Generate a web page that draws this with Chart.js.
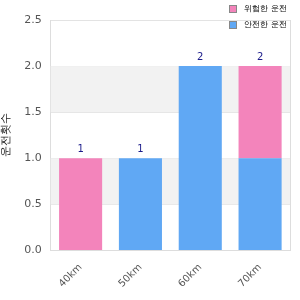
<!DOCTYPE html>
<html>
<head>
<meta charset="utf-8">
<script src="https://cdn.jsdelivr.net/npm/chart.js@4"></script>
<style>
  html, body { margin: 0; padding: 0; background: #fff; }
  #wrap { width: 300px; height: 300px; }
</style>
</head>
<body>
<div id="wrap"><canvas id="myChart" width="300" height="300"></canvas></div>
<script>
var categories = ['40km', '50km', '60km', '70km'];
var safeValues = [0, 1, 2, 1];
var riskyValues = [1, 0, 0, 1];
var yTicks = [0, 0.5, 1, 1.5, 2, 2.5];
var seriesNames = ['위험한 운전', '안전한 운전'];
var yTitle = '운전횟수';

var pink = 'rgb(243, 132, 187)';
var blue = 'rgb(96, 168, 244)';

// grey bands behind the bars + frame
var bands = {
    id: 'bands',
    beforeDatasetsDraw: function (chart) {
        var c = chart.ctx, a = chart.chartArea, y = chart.scales.y;
        c.save();
        c.fillStyle = '#f2f2f2';
        [[0.5, 1], [1.5, 2]].forEach(function (b) {
            var t = y.getPixelForValue(b[1]), btm = y.getPixelForValue(b[0]);
            c.fillRect(a.left, t, a.right - a.left, btm - t);
        });
        c.strokeStyle = '#dddddd';
        c.lineWidth = 1;
        c.beginPath();
        c.moveTo(a.right + 0.5, a.top);
        c.lineTo(a.right + 0.5, a.bottom);
        c.stroke();
        c.restore();
    },
    afterDraw: function (chart) {
        var c = chart.ctx, x = chart.scales.x, y = chart.scales.y;
        c.save();
        // totals above stacks
        c.fillStyle = '#1c1c8a';
        c.font = '10px "DejaVu Sans"';
        c.textAlign = 'center';
        c.textBaseline = 'bottom';
        categories.forEach(function (cat, i) {
            var total = safeValues[i] + riskyValues[i];
            c.fillText(String(total), x.getPixelForValue(i), y.getPixelForValue(total) - 4);
        });
        // legend
        var colors = [pink, blue];
        c.textAlign = 'left';
        c.textBaseline = 'middle';
        c.font = '8px "DejaVu Sans"';
        seriesNames.forEach(function (name, i) {
            var top = 5 + i * 16;
            c.fillStyle = colors[i];
            c.fillRect(229, top, 8, 8);
            c.strokeStyle = '#888';
            c.lineWidth = 1;
            c.strokeRect(229.5, top + 0.5, 7, 7);
            c.fillStyle = '#000';
            c.fillText(name, 244, top + 4);
        });
        c.restore();
    }
};

var ctx = document.getElementById('myChart').getContext('2d');

var myChart = new Chart(ctx, {
    type: 'bar',
    data: {
        labels: categories,
        datasets: [{
            label: seriesNames[1],
            data: safeValues,
            backgroundColor: blue,
            borderWidth: 0
        },
        {
            label: seriesNames[0],
            data: riskyValues,
            backgroundColor: pink,
            borderWidth: 0
        }]
    },
    options: {
        responsive: false,
        animation: false,
        layout: { padding: { top: 20, right: 10, left: 0, bottom: 7 } },
        plugins: {
            legend: { display: false },
            tooltip: { enabled: false }
        },
        scales: {
            x: {
                stacked: true,
                grid: { display: false },
                border: { color: '#dddddd' },
                ticks: {
                    color: '#555',
                    font: { family: 'DejaVu Sans', size: 10 },
                    maxRotation: 45,
                    minRotation: 45
                }
            },
            y: {
                stacked: true,
                min: 0,
                max: 2.5,
                afterBuildTicks: function (axis) {
                    axis.ticks = yTicks.map(function (v) { return { value: v }; });
                },
                grid: { color: '#e3e3e3', drawTicks: false },
                border: { color: '#dddddd' },
                ticks: {
                    color: '#555',
                    padding: 9,
                    font: { family: 'DejaVu Sans', size: 11 },
                    callback: function (v) { return Number(v).toFixed(1); }
                },
                title: {
                    display: true,
                    text: yTitle,
                    color: '#222',
                    font: { family: 'DejaVu Sans', size: 11 },
                    padding: { top: 0, bottom: 2 }
                }
            }
        }
    },
    plugins: [bands]
});
</script>
</body>
</html>
